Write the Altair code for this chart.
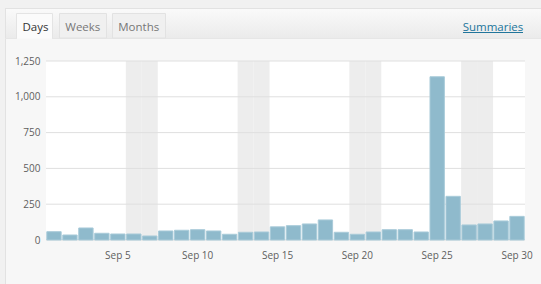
import altair as alt
import pandas as pd

days = ["Sep 1", "Sep 2", "Sep 3", "Sep 4", "Sep 5", "Sep 6", "Sep 7", "Sep 8", "Sep 9", "Sep 10",
        "Sep 11", "Sep 12", "Sep 13", "Sep 14", "Sep 15", "Sep 16", "Sep 17", "Sep 18", "Sep 19", "Sep 20",
        "Sep 21", "Sep 22", "Sep 23", "Sep 24", "Sep 25", "Sep 26", "Sep 27", "Sep 28", "Sep 29", "Sep 30"]
views = [58, 35, 84, 47, 42, 42, 28, 63, 68, 72,
         63, 40, 54, 56, 92, 100, 112, 140, 54, 40,
         56, 72, 72, 56, 1140, 305, 105, 112, 133, 165]
weekends = ["Sep 6", "Sep 7", "Sep 13", "Sep 14", "Sep 20", "Sep 21", "Sep 27", "Sep 28"]
grid_values = [0, 250, 500, 750, 1000, 1250]
x_tick_labels = ["Sep 5", "Sep 10", "Sep 15", "Sep 20", "Sep 25", "Sep 30"]
tabs = ["Days", "Weeks", "Months"]

FONT = "Open Sans"
W, H = 479, 179

xscale = alt.Scale(domain=days, paddingInner=0.1, paddingOuter=0.05)
yscale = alt.Scale(domain=[0, 1250], nice=False)
xaxis = alt.Axis(values=x_tick_labels, title=None, domain=False, ticks=False, labelAngle=0,
                 labelPadding=10, labelFont=FONT, labelFontSize=10, labelColor="#5e5e5e", grid=False)
yaxis = alt.Axis(values=grid_values, title=None, domain=False, ticks=False, format=",.0f",
                 labelPadding=6, labelFont=FONT, labelFontSize=10, labelColor="#5e5e5e", grid=False)

one = pd.DataFrame({"a": [0]})

def rect(x, x2, y, y2, fill, stroke=None):
    kw = {"fill": fill}
    if stroke:
        kw["stroke"] = stroke
        kw["strokeWidth"] = 1
    return alt.Chart(one).mark_rect(**kw).encode(
        x=alt.value(x), x2=alt.value(x2), y=alt.value(y), y2=alt.value(y2))

def hline(x, x2, y, color):
    return alt.Chart(one).mark_rule(color=color, strokeWidth=1).encode(
        x=alt.value(x), x2=alt.value(x2), y=alt.value(y))

def vline(x, y, y2, color):
    return alt.Chart(one).mark_rule(color=color, strokeWidth=1).encode(
        x=alt.value(x), y=alt.value(y), y2=alt.value(y2))

def label(txt, x, y, color, size=11.5, weight="normal"):
    return alt.Chart(one).mark_text(font=FONT, fontSize=size, color=color, fontWeight=weight,
                                    align="center", baseline="alphabetic").encode(
        x=alt.value(x), y=alt.value(y), text=alt.value(txt))

header_grad = alt.Gradient(gradient="linear", x1=0, y1=0, x2=0, y2=1,
                           stops=[alt.GradientStop(color="#fafafa", offset=0),
                                  alt.GradientStop(color="#ebebeb", offset=1)])

chrome = [
    rect(-46, -40.5, -61, 230, "#f1f1f1"),
    rect(-46, 500, -61, -52.5, "#f1f1f1"),
    alt.Chart(one).mark_rect(color=header_grad).encode(
        x=alt.value(-40.5), x2=alt.value(500), y=alt.value(-52.5), y2=alt.value(-23)),
    vline(-40.5, -53, 230, "#e2e2e2"),
    hline(-41, 500, -52.5, "#e2e2e2"),
    hline(-41, 500, -22.5, "#e6e6e6"),
    rect(13.5, 60.5, -47.5, -23, "#f0f0f0", "#e2e2e2"),
    rect(66.5, 119.5, -47.5, -23, "#f0f0f0", "#e2e2e2"),
    rect(-29.5, 6.5, -47.5, -22.5, "#fbfbfb", "#e4e4e4"),
    hline(-29, 6, -22.5, "#f9f9f9"),
    label(tabs[0], -10.5, -30, "#333333"),
    label(tabs[1], 36.8, -30, "#777777"),
    label(tabs[2], 92.7, -30, "#777777"),
    label("Summaries", 447, -30.5, "#21759b", size=11.5),
    hline(417, 477, -28.5, "#21759b"),
]

bands = alt.Chart(pd.DataFrame({"day": weekends})).mark_bar(
    color="#ededed", width=alt.RelativeBandSize(1.111)).encode(
    x=alt.X("day:N", scale=xscale, axis=xaxis, sort=days),
    y=alt.value(0), y2=alt.value(H))

rules = alt.Chart(pd.DataFrame({"v": grid_values})).mark_rule(color="#dfdfdf").encode(
    y=alt.Y("v:Q", scale=yscale, axis=yaxis))

bars = alt.Chart(pd.DataFrame({"day": days, "views": views})).mark_bar(
    color="#8fbacc", stroke="#a9cbd9", strokeWidth=1).encode(
    x=alt.X("day:N", scale=xscale, axis=xaxis, sort=days),
    y=alt.Y("views:Q", scale=yscale, axis=yaxis))

chart = alt.layer(*chrome, bands, rules, bars).properties(
    width=W, height=H,
    padding={"left": 46, "top": 61, "right": 16, "bottom": 44},
    autosize="none",
    background="#f7f7f7",
).configure_view(fill="white", stroke=None)

chart.save("out.html", embed_options={"renderer": "svg", "actions": False})
